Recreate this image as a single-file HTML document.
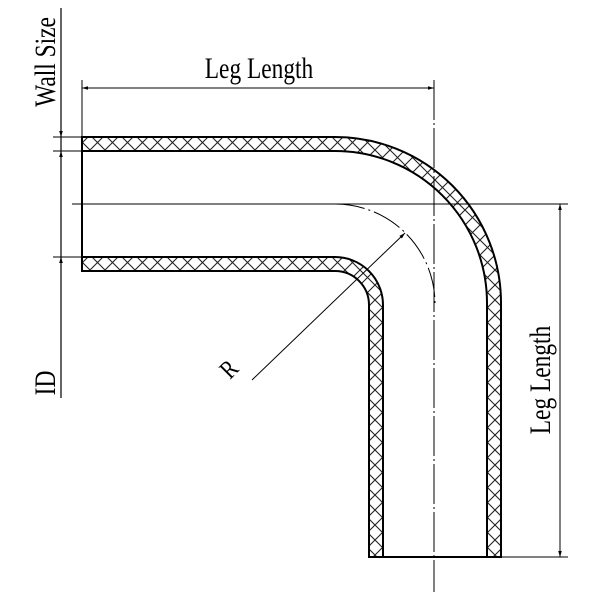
<!DOCTYPE html>
<html><head><style>html,body{margin:0;padding:0;background:#fff}svg{display:block}</style></head>
<body>
<svg width="600" height="600" viewBox="0 0 600 600" xmlns="http://www.w3.org/2000/svg">
<defs>
<pattern id="h" patternUnits="userSpaceOnUse" width="15" height="15">
<path d="M0,0 L15,15 M15,0 L0,15" stroke="#222" stroke-width="1.1" fill="none"/>
</pattern>
<marker id="a" viewBox="0 0 10 10" refX="10" refY="5" markerWidth="12" markerHeight="6" orient="auto-start-reverse" markerUnits="userSpaceOnUse">
<path d="M0,2 L10,5 L0,8 Z" fill="#000"/>
</marker>
</defs>
<g fill="none" stroke="#000">
<path d="M82,137 H335 A166,166 0 0 1 501,303 V557 H487 V303 A152,152 0 0 0 335,151 H82 Z" fill="url(#h)" stroke-width="2"/>
<path d="M82,257 H335 A48,48 0 0 1 383,305 V557 H369 V305 A34,34 0 0 0 335,271 H82 Z" fill="url(#h)" stroke-width="2"/>
<line x1="82" y1="137" x2="82" y2="271" stroke-width="2"/>
<line x1="369" y1="557" x2="501" y2="557" stroke-width="2"/>
<line x1="72" y1="204" x2="568" y2="204" stroke-width="1"/>
<line x1="434" y1="80" x2="434" y2="592" stroke-width="1" stroke-dasharray="40,3,2,3"/>
<path d="M335,204 A100,100 0 0 1 435,304" stroke-width="1" stroke-dasharray="30,4,2,4"/>
<line x1="252" y1="380" x2="405" y2="233" stroke-width="1" marker-end="url(#a)"/>
<line x1="82" y1="80" x2="82" y2="137" stroke-width="1"/>
<line x1="82" y1="88" x2="434" y2="88" stroke-width="1" marker-start="url(#a)" marker-end="url(#a)"/>
<line x1="501" y1="557" x2="568" y2="557" stroke-width="1"/>
<line x1="560" y1="204" x2="560" y2="557" stroke-width="1" marker-start="url(#a)" marker-end="url(#a)"/>
<line x1="61" y1="8" x2="61" y2="398" stroke-width="1.2"/>
<line x1="53" y1="137" x2="82" y2="137" stroke-width="1"/>
<line x1="53" y1="151" x2="82" y2="151" stroke-width="1"/>
<line x1="53" y1="257" x2="82" y2="257" stroke-width="1"/>
<line x1="61" y1="122" x2="61" y2="137" marker-end="url(#a)" stroke-width="1"/>
<line x1="61" y1="166" x2="61" y2="151" marker-end="url(#a)" stroke-width="1"/>
<line x1="61" y1="272" x2="61" y2="257" marker-end="url(#a)" stroke-width="1"/>
</g>
<g font-family="Liberation Serif, serif" font-size="30" fill="#000">
<text transform="translate(259,78) scale(0.78,1)" text-anchor="middle">Leg Length</text>
<text transform="translate(550,380) rotate(-90) scale(0.78,1)" text-anchor="middle">Leg Length</text>
<text transform="translate(55,62) rotate(-90) scale(0.78,1)" text-anchor="middle">Wall Size</text>
<text transform="translate(55,383) rotate(-90) scale(0.78,1)" text-anchor="middle">ID</text>
<text transform="translate(230,380) rotate(-45) scale(0.8,1)" font-size="26">R</text>
</g>
</svg>
</body></html>
